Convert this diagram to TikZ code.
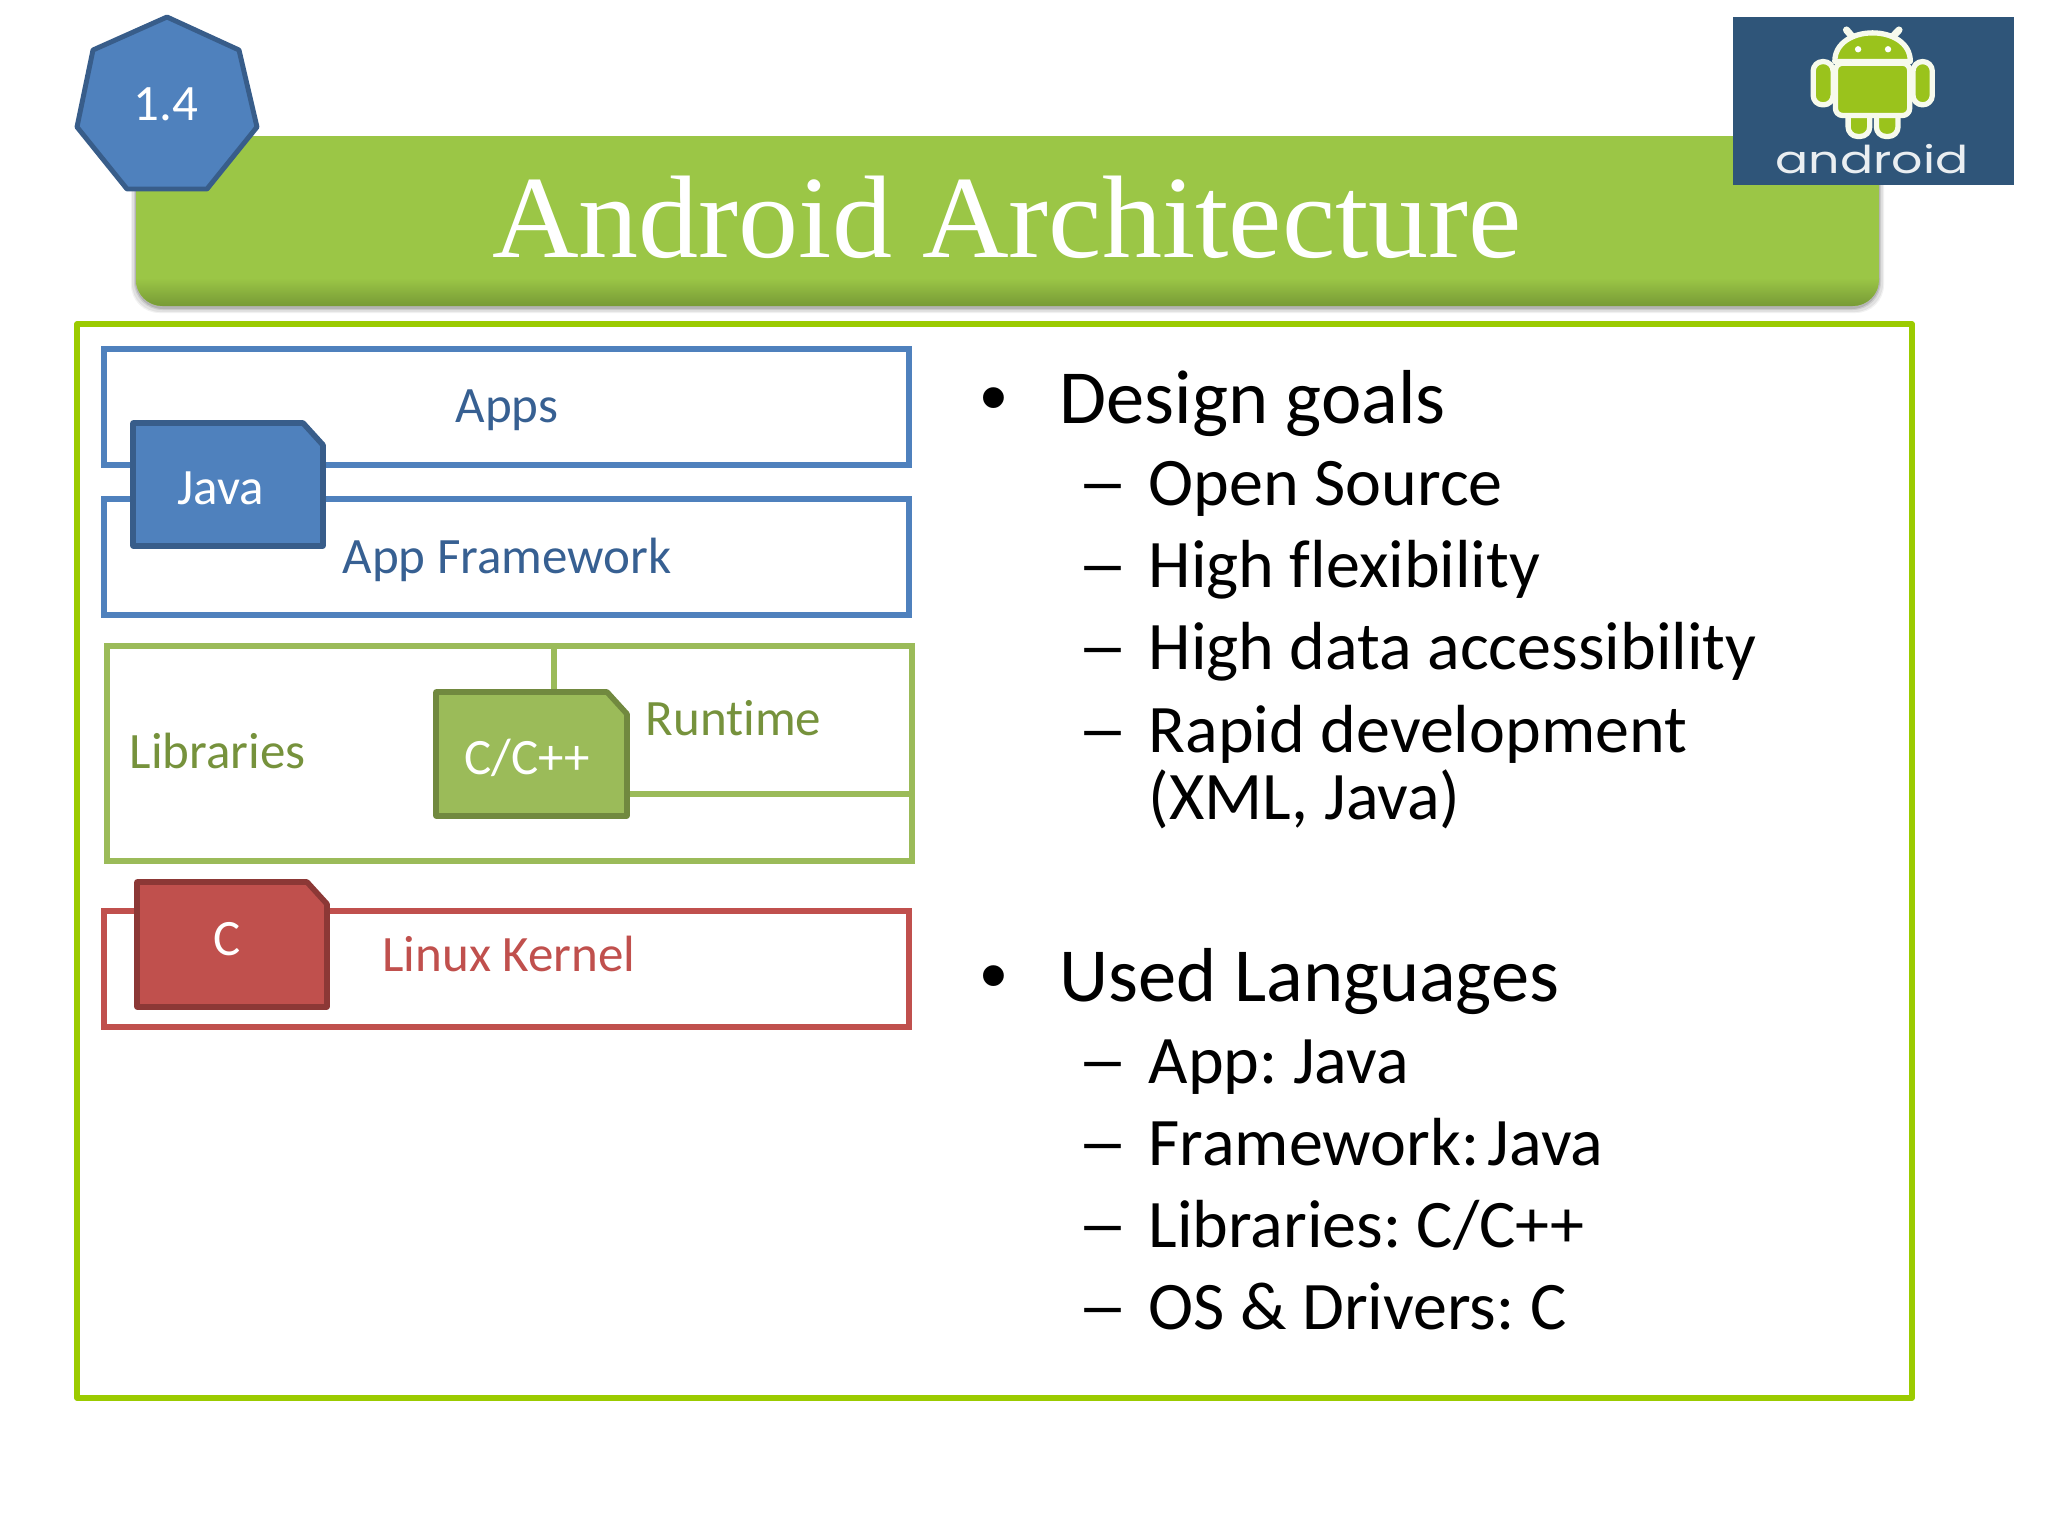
\documentclass[tikz,border=0pt]{standalone}
\usepackage{fontspec}
\setmainfont{Carlito}[RawFeature={-liga}]
\newfontfamily\titlefont{Liberation Serif}
\newfontfamily\logofont{Poppins}
\newfontfamily\bulfont{Liberation Sans}
\definecolor{tgreen}{HTML}{9BC646}
\definecolor{tgreenD}{HTML}{779A36}
\definecolor{framec}{HTML}{9BCB00}
\definecolor{bluef}{HTML}{4F81BD}
\definecolor{blued}{HTML}{385D8A}
\definecolor{bluet}{HTML}{376092}
\definecolor{greenf}{HTML}{9BBB59}
\definecolor{greend}{HTML}{71893F}
\definecolor{greent}{HTML}{76923C}
\definecolor{redf}{HTML}{C0504D}
\definecolor{redd}{HTML}{8C3836}
\definecolor{logobg}{HTML}{2F5579}
\definecolor{droid}{HTML}{9AC31C}
\newcommand{\pxfont}[1]{\fontsize{#1}{#1}\selectfont\frenchspacing}
\newcommand{\folder}[6]{%
  \draw[line width=1.6pt, draw=#6, fill=#5, line join=round] (#1,#2) -- (#3-20,#2) -- (#3,#2+22) -- (#3,#4) -- (#1,#4) -- cycle;}
\tikzset{
  x=0.01cm, y=-0.01cm,
  lay/.style={line width=1.5pt},
  lbl/.style={anchor=base, inner sep=0, font=\pxfont{14.5}},
  head/.style={anchor=base west, inner sep=0, font=\pxfont{21.75}},
  sub/.style={anchor=base west, inner sep=0, font=\pxfont{19.35}},
  dashmark/.style={anchor=base west, inner sep=0, font=\pxfont{19.4}, xscale=1.5},
  bul/.style={anchor=base, inner sep=0, font=\bulfont\pxfont{21.8}},
  robot/.style={fill=droid, draw=white!92!droid, line width=1.5pt, line join=round},
}
\begin{document}
\begin{tikzpicture}
\useasboundingbox (0,0) rectangle (2048,1536);
% title bar shadow
\foreach \g/\o in {5/0.05,4/0.07,2/0.09,1/0.12}
  \fill[black, opacity=\o, rounded corners=8pt] (136-\g,140) rectangle (1879+\g,308+\g);
\begin{scope}
  \clip[rounded corners=7.5pt] (136,136) rectangle (1879,306);
  \fill[tgreen] (136,136) rectangle (1879,306);
  \shade[top color=tgreen, bottom color=tgreenD] (136,278) rectangle (1879,306);
\end{scope}
\node[anchor=base, inner sep=0, text=white, xscale=1.022] (title) at (1007,257) {\titlefont\pxfont{33.4}Android Architecture};
% frame
\draw[framec, line width=1.6pt, line join=round] (77,324) rectangle (1912,1398);
% heptagon
\draw[fill=bluef, draw=blued, line width=1.4pt, line join=round]
  (167,17) -- (239,50) -- (257,127) -- (207,189) -- (127,189) -- (77,127) -- (93,50) -- cycle;
\node[anchor=base, inner sep=0, text=white, font=\pxfont{14.5}] (num) at (166,120) {1.4};
% logo
\fill[logobg] (1733,17) rectangle (2014,185);
\begin{scope}[shift={(1700,0)}, x=0.003333cm, y=-0.003333cm]
  \draw[white!92!droid, line width=2pt, line cap=round] (470,125) -- (440,90) (565,125) -- (598,90);
  \draw[robot, rounded corners=2.7pt] (340,185) rectangle (400,315);
  \draw[robot, rounded corners=2.7pt] (640,185) rectangle (698,315);
  \draw[robot, rounded corners=2.7pt] (445,320) rectangle (510,410);
  \draw[robot, rounded corners=2.7pt] (530,320) rectangle (595,410);
  \draw[robot] (405,185) .. controls (405,70) and (632,70) .. (632,185) -- cycle;
  \draw[robot, rounded corners=2pt] (407,190) -- (630,190) -- (630,347) -- (407,347) -- cycle;
  \fill[white] (475,148) circle (0.9pt);
  \fill[white] (565,148) circle (0.9pt);
\end{scope}
\node[anchor=base, inner sep=0, text=white!90!logobg, xscale=1.28] (logotxt) at (1872,173) {\logofont\pxfont{10.9}android};
% layers
\draw[lay, bluef] (104,349) rectangle (909,465);
\draw[lay, bluef] (104,499) rectangle (909,615);
\node[lbl, text=bluet] (apps) at (507,422) {Apps};
\node[lbl, text=bluet] (fw) at (507,573) {App Framework};
\folder{133}{423}{323}{546}{bluef}{blued}
\node[lbl, text=white] (java) at (221,504) {Java};
\draw[lay, greenf] (107,646) rectangle (912,861);
\coordinate (divtop) at (554,646);
\coordinate (divbot) at (554,691);
\coordinate (hl) at (627,794);
\coordinate (hr) at (912,794);
\draw[lay, greenf] (divtop) -- (divbot);
\draw[lay, greenf] (hl) -- (hr);
\folder{436}{692}{627}{816}{greenf}{greend}
\node[lbl, text=greent, anchor=base west] (lib) at (129,768) {Libraries};
\node[lbl, text=greent, anchor=base west] (rt) at (645,735) {Runtime};
\node[lbl, text=white] (cpp) at (527,774) {C/C++};
\draw[lay, redf] (104,911) rectangle (909,1027);
\folder{137}{882}{327}{1007}{redf}{redd}
\node[lbl, text=white] (c) at (227,955) {C};
\node[lbl, text=redf] (lk) at (509,971) {Linux Kernel};
% right text
\node[bul] (b1) at (994,423) {•};
\node[head] (h1) at (1059,423) {Design goals};
\node[dashmark] (d1) at (1076,505) {–};
\node[sub] (s1) at (1148,505) {Open Source};
\node[dashmark] (d2) at (1076,587) {–};
\node[sub] (s2) at (1148,587) {High flexibility};
\node[dashmark] (d3) at (1076,669) {–};
\node[sub] (s3) at (1148,669) {High data accessibility};
\node[dashmark] (d4) at (1076,752) {–};
\node[sub] (s4) at (1148,752) {Rapid development};
\node[sub] (s5) at (1148,819) {(XML, Java)};
\node[bul] (b2) at (994,1001) {•};
\node[head] (h2) at (1059,1001) {Used Languages};
\node[dashmark] (d5) at (1076,1083) {–};
\node[sub] (s6) at (1148,1083) {App: Java};
\node[dashmark] (d6) at (1076,1165) {–};
\node[sub] (s7) at (1148,1165) {Framework:\kern-2pt\ Java};
\node[dashmark] (d7) at (1076,1247) {–};
\node[sub] (s8) at (1148,1247) {Libraries: C/C++};
\node[dashmark] (d8) at (1076,1329) {–};
\node[sub] (s9) at (1148,1329) {OS \& Drivers: C};
\end{tikzpicture}
\end{document}
